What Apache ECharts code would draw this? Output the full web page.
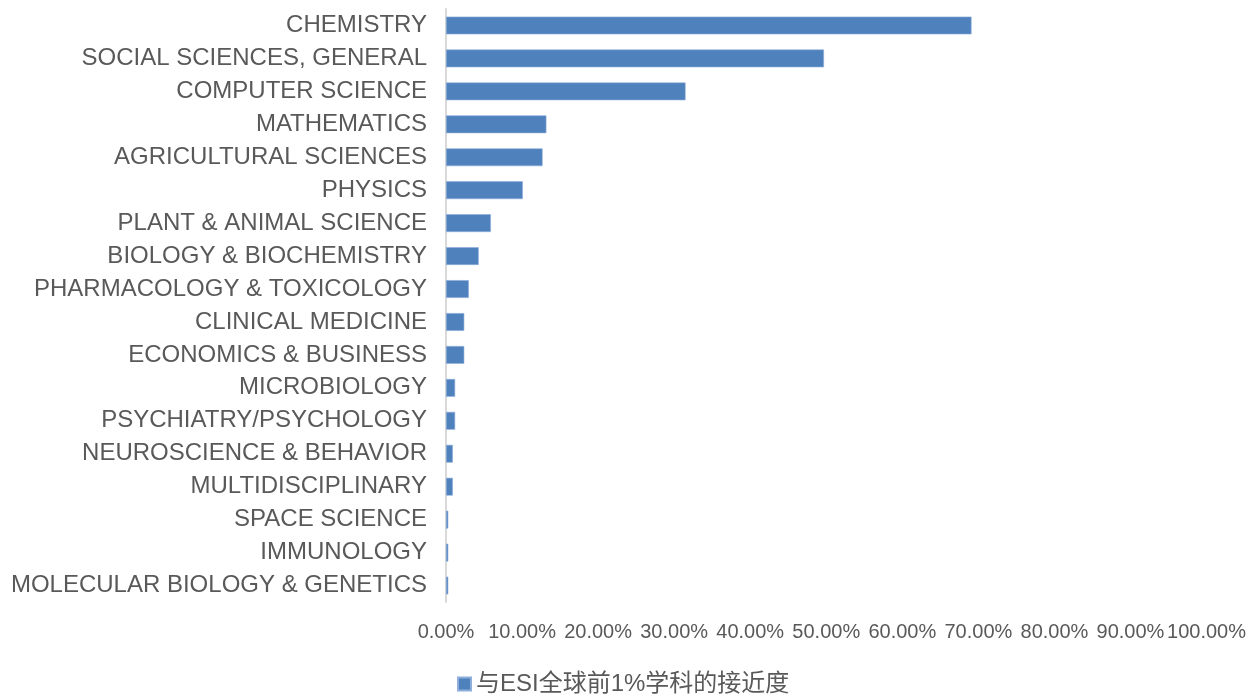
<!DOCTYPE html>
<html>
<head>
<meta charset="utf-8">
<title>与ESI全球前1%学科的接近度</title>
<script src="https://cdn.jsdelivr.net/npm/echarts@6/dist/echarts.min.js"></script>
<style>
  html, body { margin: 0; padding: 0; background: #fff; }
  #container { width: 1249px; height: 695px; }
</style>
</head>
<body>
<div id="container"></div>
<script>
// 学科名称（从上到下）
var subjects = [
  'CHEMISTRY', 'SOCIAL SCIENCES, GENERAL', 'COMPUTER SCIENCE', 'MATHEMATICS',
  'AGRICULTURAL SCIENCES', 'PHYSICS', 'PLANT & ANIMAL SCIENCE', 'BIOLOGY & BIOCHEMISTRY',
  'PHARMACOLOGY & TOXICOLOGY', 'CLINICAL MEDICINE', 'ECONOMICS & BUSINESS', 'MICROBIOLOGY',
  'PSYCHIATRY/PSYCHOLOGY', 'NEUROSCIENCE & BEHAVIOR', 'MULTIDISCIPLINARY', 'SPACE SCIENCE',
  'IMMUNOLOGY', 'MOLECULAR BIOLOGY & GENETICS'
];
// 接近度（%）
var closeness = [69.1, 49.7, 31.5, 13.2, 12.7, 10.1, 5.9, 4.3, 3.0, 2.4, 2.4, 1.2, 1.2, 0.9, 0.9, 0.3, 0.3, 0.3];
var seriesName = '与ESI全球前1%学科的接近度';

var fontFam = "'Liberation Sans', Arial, 'Noto Sans CJK SC', sans-serif";
var textColor = '#595959';

var dom = document.getElementById('container');
var myChart = echarts.init(dom, null, { renderer: 'canvas' });

var option = {
  animation: false,
  textStyle: { fontFamily: fontFam },
  grid: { left: 446, right: 38, top: 9, bottom: 93, containLabel: false },
  legend: {
    data: [seriesName],
    left: 452,
    top: 667,
    icon: 'rect',
    itemWidth: 13,
    itemHeight: 13,
    textStyle: { fontSize: 24, color: textColor, fontFamily: fontFam }
  },
  xAxis: {
    type: 'value',
    min: 0,
    max: 100,
    interval: 10,
    axisLine: { show: false },
    axisTick: { show: false },
    splitLine: { show: false },
    axisLabel: {
      fontSize: 20,
      color: textColor,
      margin: 20,
      fontFamily: fontFam,
      formatter: function (v) { return v.toFixed(2) + '%'; }
    }
  },
  yAxis: {
    type: 'category',
    inverse: true,
    data: subjects,
    axisLine: { show: true, lineStyle: { color: '#d9d9d9', width: 2 } },
    axisTick: { show: false },
    axisLabel: { fontSize: 24, color: textColor, margin: 19, fontFamily: fontFam }
  },
  series: [{
    name: seriesName,
    type: 'bar',
    data: closeness,
    barWidth: '54%',
    itemStyle: { color: '#4f81bd', borderColor: '#8eaedb', borderWidth: 0.6 }
  }]
};

myChart.setOption(option);
window.addEventListener('resize', myChart.resize);
</script>
</body>
</html>
